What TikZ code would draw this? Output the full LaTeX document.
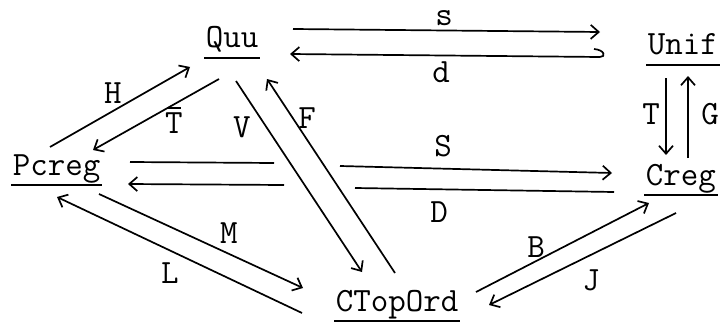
\documentclass[tikz,border=0pt]{standalone}
\usetikzlibrary{arrows.meta}
\begin{document}
\begin{tikzpicture}[x=1pt, y=-1pt,
  line width=1.7pt,
  tip/.tip={Straight Barb[length=8pt,width=14pt,line width=1.7pt]},
  arr/.style={-tip},
  uline/.style={draw, line width=1.6pt},
  obj/.style={inner xsep=1pt, inner ysep=0pt, text depth=0pt, anchor=base west,
    font=\fontsize{34}{40}\selectfont\ttfamily,
    append after command={([yshift=-9pt]\tikzlastnode.south west) edge[uline] ([yshift=-9pt]\tikzlastnode.south east)}},
  lbl/.style={inner sep=0pt, font=\fontsize{34}{40}\selectfont\ttfamily}]
\useasboundingbox (0,0) rectangle (722,321);

% objects
\node[obj] (quu)  at (204,48)  {Quu};
\node[obj] (unif) at (646,55)  {Unif};
\node[obj] (pcreg) at (11,175) {Pcreg};
\node[obj] (creg) at (644,185) {Creg};
\node[obj] (ctop) at (334,311) {CTopOrd};

% end points of the arrows
\coordinate (s1) at (293,29);  \coordinate (s2) at (600,32);
\coordinate (d1) at (600,57);  \coordinate (d2) at (290,54);
\coordinate (t1) at (666,78);  \coordinate (t2) at (666,155);
\coordinate (g1) at (688,158); \coordinate (g2) at (688,76);
\coordinate (h1) at (50,147);  \coordinate (h2) at (190,67);
\coordinate (tb1) at (219,79); \coordinate (tb2) at (93,150);
\coordinate (v1) at (236,81);  \coordinate (v2) at (362,272);
\coordinate (f1) at (395,273); \coordinate (f2) at (267,79);
\coordinate (S1) at (130,162); \coordinate (S2) at (274,163);
\coordinate (S3) at (340,166); \coordinate (S4) at (612,173);
\coordinate (D1) at (614,192); \coordinate (D2) at (355,188);
\coordinate (D3) at (284,185); \coordinate (D4) at (128,184);
\coordinate (m1) at (99,194);  \coordinate (m2) at (303,288);
\coordinate (l1) at (302,313); \coordinate (l2) at (57,197);
\coordinate (b1) at (476,292); \coordinate (b2) at (649,203);
\coordinate (j1) at (676,213); \coordinate (j2) at (489,305);

% arrows
\draw[arr] (s1) -- (s2);
\draw[arr] (d1) -- (d2);
\draw (d1) .. controls (606,57) and (605,50) .. (594,49);
\draw[arr] (t1) -- (t2);
\draw[arr] (g1) -- (g2);
\draw[arr] (h1) -- (h2);
\draw[arr] (tb1) -- (tb2);
\draw[arr] (v1) -- (v2);
\draw[arr] (f1) -- (f2);
\draw (S1) -- (S2);
\draw[arr] (S3) -- (S4);
\draw (D1) -- (D2);
\draw[arr] (D3) -- (D4);
\draw[arr] (m1) -- (m2);
\draw[arr] (l1) -- (l2);
\draw[arr] (b1) -- (b2);
\draw[arr] (j1) -- (j2);

% labels
\node[lbl] (ls) at (444,18) {s};
\node[lbl] (ld) at (441,72) {d};
\node[lbl] (lT) at (651,114) {T};
\node[lbl] (lG) at (710,114) {G};
\node[lbl] (lH) at (113,93) {H};
\node[lbl] (lTb) at (174,123) {T};
\draw[line width=2pt] ([yshift=4pt]lTb.north west) ++(3pt,0) -- ([yshift=4pt,xshift=-3pt]lTb.north east);
\node[lbl] (lV) at (242,127) {V};
\node[lbl] (lF) at (307,118) {F};
\node[lbl] (lS) at (443,146) {S};
\node[lbl] (lD) at (439,212) {D};
\node[lbl] (lM) at (229,233) {M};
\node[lbl] (lL) at (170,273) {L};
\node[lbl] (lB) at (536,247) {B};
\node[lbl] (lJ) at (591,280) {J};
\end{tikzpicture}
\end{document}
